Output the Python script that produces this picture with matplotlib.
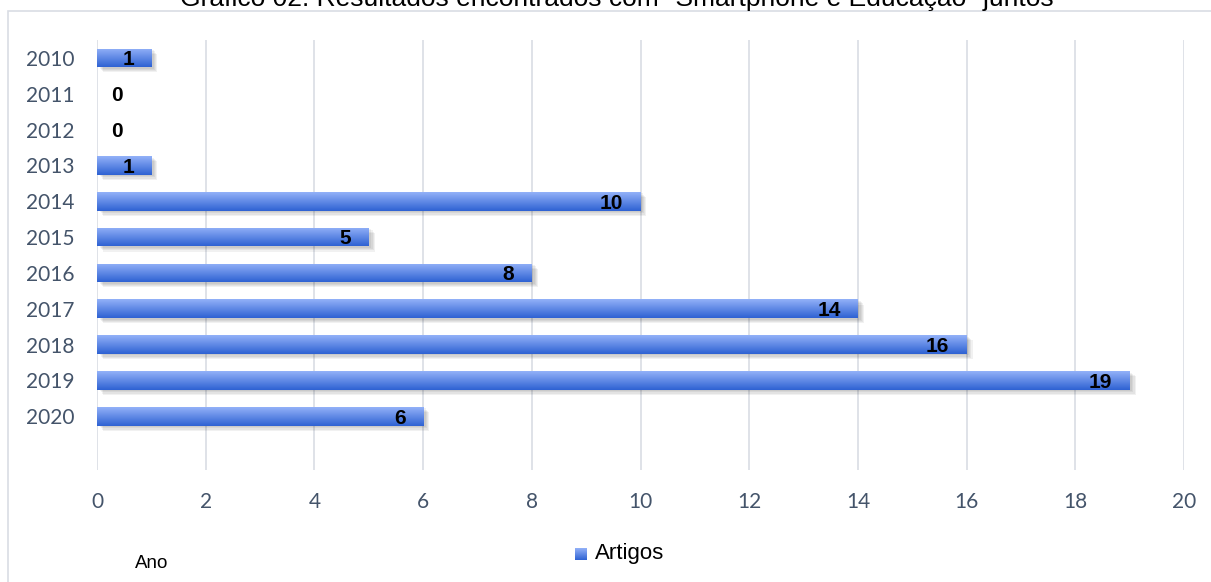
import numpy as np
import matplotlib
matplotlib.use('Agg')
import matplotlib.pyplot as plt
from matplotlib.patches import Rectangle

# data
anos = ['2010', '2011', '2012', '2013', '2014', '2015', '2016', '2017', '2018', '2019', '2020']
artigos = [1, 0, 0, 1, 10, 5, 8, 14, 16, 19, 6]
x_ticks = list(range(0, 21, 2))

titulo = 'Gráfico 02: Resultados encontrados com "Smartphone e Educação" juntos'

W, H = 1211, 582
fig = plt.figure(figsize=(W / 100, H / 100), dpi=100)
ax = fig.add_axes([97 / W, 1 - 470 / H, (1184 - 97) / W, (470 - 40) / H])

# outer frame of the chart area
frame = Rectangle((8 / W, -0.01), 1.2, 1 - 11 / H + 0.01, transform=fig.transFigure,
                  fill=False, edgecolor='#d9dde4', linewidth=1.2, clip_on=False)
fig.add_artist(frame)

# cut-off title at the top
fig.text(617 / W, 1 - 6 / H, titulo, ha='center', va='baseline', fontsize=19,
         family='Liberation Sans', color='black')

ypos = np.arange(len(anos))
bar_h = 0.52

# gradient image (light top, dark bottom)
grad = np.linspace(0, 1, 64).reshape(-1, 1)
top_c = np.array([0x93, 0xb1, 0xf8]) / 255
bot_c = np.array([0x2e, 0x62, 0xd3]) / 255
img = top_c[None, None, :] * (1 - grad[:, :, None]) + bot_c[None, None, :] * grad[:, :, None]

for y, v in zip(ypos, artigos):
    if v <= 0:
        continue
    # soft shadow
    for k in range(4):
        off = 0.04 + k * 0.035
        ax.add_patch(Rectangle((0.05 + k * 0.02, y - bar_h / 2 + off), v, bar_h,
                               facecolor='black', alpha=0.055, linewidth=0, zorder=2))
    bars = ax.barh(y, v, height=bar_h, color='none', linewidth=0, zorder=3)
    patch = bars.patches[0]
    im = ax.imshow(img, extent=(0, v, y + bar_h / 2, y - bar_h / 2), aspect='auto',
                   zorder=3, interpolation='bilinear')
    im.set_clip_path(patch)

# value labels
for y, v in zip(ypos, artigos):
    xl = v - 0.32 if v > 0 else 0.47
    ax.text(xl, y + 0.05, str(v), ha='right', va='center', fontsize=15,
            fontweight='bold', family='Liberation Sans', color='black', zorder=5)

ax.set_xlim(0, 20)
ax.set_ylim(11.5, -0.5)
ax.set_xticks(x_ticks)
ax.set_yticks(ypos)
ax.set_yticklabels(anos)
ax.grid(axis='x', color='#d9dde4', linewidth=1.2, zorder=0)
ax.set_axisbelow(True)
for s in ax.spines.values():
    s.set_visible(False)
ax.tick_params(axis='both', length=0, labelsize=15, labelcolor='#44546a')
ax.tick_params(axis='x', pad=16)
ax.tick_params(axis='y', pad=16)
for lab in ax.get_xticklabels() + ax.get_yticklabels():
    lab.set_family('Lato')

# legend
leg_box = fig.add_axes([575 / W, 1 - 560 / H, 12 / W, 12 / H])
leg_box.imshow(img, aspect='auto', extent=(0, 1, 0, 1))
leg_box.set_axis_off()
fig.text(595 / W, 1 - 553 / H, 'Artigos', ha='left', va='center', fontsize=16,
         family='Liberation Sans', color='black')
fig.text(135 / W, 1 - 563 / H, 'Ano', ha='left', va='center', fontsize=13.5,
         family='Liberation Sans', color='black')

fig.savefig('out.png', dpi=100)
